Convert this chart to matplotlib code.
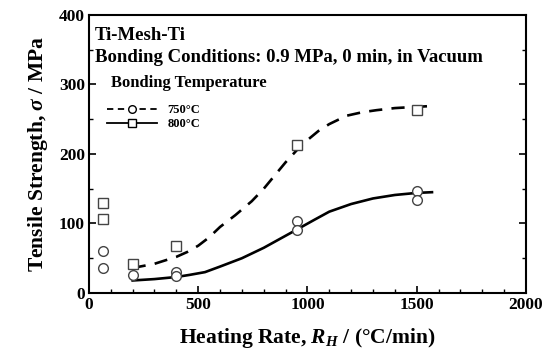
import matplotlib
matplotlib.use("Agg")
import matplotlib.pyplot as plt
from matplotlib.lines import Line2D
from matplotlib.ticker import MultipleLocator

plt.rcParams['font.family'] = 'Liberation Serif'
plt.rcParams['font.weight'] = 'bold'
plt.rcParams['mathtext.fontset'] = 'custom'
plt.rcParams['mathtext.rm'] = 'Liberation Serif:bold'
plt.rcParams['mathtext.it'] = 'Liberation Serif:italic:bold'

# Data
sq_x = [64, 64, 200, 400, 950, 1500]
sq_y = [130, 107, 41, 67, 213, 263]
ci_x = [64, 64, 200, 400, 400, 950, 950, 1500, 1500]
ci_y = [60, 36, 26, 30, 24, 103, 91, 147, 134]

dash_x = [200, 300, 400, 450, 500, 550, 600, 670, 745, 800, 850, 900, 950, 1000, 1050, 1100, 1179, 1250, 1316, 1400, 1454, 1568]
dash_y = [36, 42, 52, 59, 68, 80, 95, 112, 132, 150, 169, 188, 205, 220, 233, 243, 255, 260, 263, 266, 267, 269]
solid_x = [200, 300, 400, 460, 531, 600, 700, 800, 875, 950, 1030, 1100, 1200, 1300, 1400, 1500, 1570]
solid_y = [18, 20, 23, 26, 30, 38, 50, 65, 78, 91, 105, 117, 128, 136, 141, 144, 145]

legend_labels = ['750°C', '800°C']

fig = plt.figure(figsize=(5.49, 3.56), dpi=100)
ax = fig.add_axes([0.162, 0.177, 0.796, 0.781])

ax.plot(dash_x, dash_y, ls=(0, (5, 3.5)), color='black', lw=1.9)
ax.plot(solid_x, solid_y, ls='-', color='black', lw=1.9)
ax.plot(sq_x, sq_y, ls='none', marker='s', ms=7, mfc='white', mec='#444444', mew=1.0)
ax.plot(ci_x, ci_y, ls='none', marker='o', ms=7, mfc='white', mec='#444444', mew=1.0)

ax.set_xlim(0, 2000)
ax.set_ylim(0, 400)
ax.xaxis.set_major_locator(MultipleLocator(500))
ax.xaxis.set_minor_locator(MultipleLocator(100))
ax.yaxis.set_major_locator(MultipleLocator(100))
ax.yaxis.set_minor_locator(MultipleLocator(50))
ax.tick_params(which='both', direction='in', right=True, top=False, labelsize=12.5, pad=3)
ax.tick_params(which='major', length=5, width=1.2)
ax.tick_params(which='minor', length=3, width=1.0)
for lab in ax.get_xticklabels() + ax.get_yticklabels():
    lab.set_fontweight('bold')
for sp in ax.spines.values():
    sp.set_linewidth(1.5)

ax.set_xlabel(r'Heating Rate, $R_H$ / (°C/min)', fontsize=15.5, fontweight='bold', labelpad=9)
ax.set_ylabel(r'Tensile Strength, $\sigma$ / MPa', fontsize=15.5, fontweight='bold', labelpad=6)

ax.text(0.013, 0.958, 'Ti-Mesh-Ti', transform=ax.transAxes, fontsize=13.5, fontweight='bold', va='top')
ax.text(0.013, 0.876, 'Bonding Conditions: 0.9 MPa, 0 min, in Vacuum', transform=ax.transAxes,
        fontsize=13.5, fontweight='bold', va='top')
ax.text(0.05, 0.757, 'Bonding Temperature', transform=ax.transAxes, fontsize=12, fontweight='bold',
        va='center')

handles = [
    Line2D([], [], ls=(0, (3.5, 2.5)), color='black', lw=1.3, marker='o', ms=5.5, mfc='white', mec='black'),
    Line2D([], [], ls='-', color='black', lw=1.3, marker='s', ms=5.5, mfc='white', mec='black'),
]
leg = ax.legend(handles, legend_labels, loc='upper left', bbox_to_anchor=(0.042, 0.678),
                frameon=False, fontsize=9, handlelength=4.0, handletextpad=0.8,
                labelspacing=0.15, borderaxespad=0, borderpad=0)
for t in leg.get_texts():
    t.set_fontweight('bold')

fig.savefig('out.png', dpi=100)
